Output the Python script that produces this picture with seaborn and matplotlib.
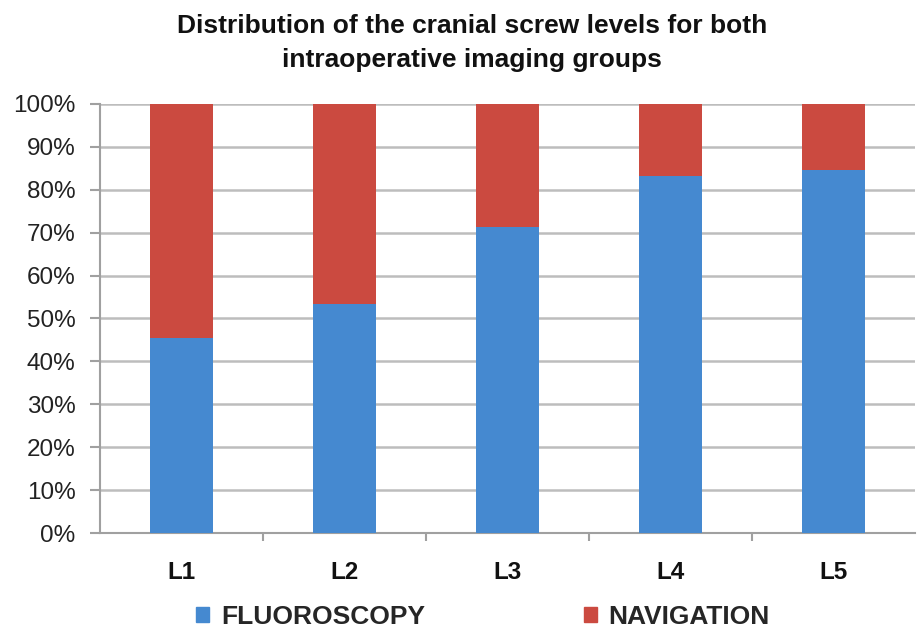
import pandas as pd
import numpy as np
import matplotlib
matplotlib.use("Agg")
import matplotlib.pyplot as plt
import seaborn as sns
from matplotlib.patches import Patch

# values (percent of screws per level)
levels = ["L1", "L2", "L3", "L4", "L5"]
fluoroscopy = [45.4, 53.4, 71.4, 83.2, 84.5]
navigation = [54.6, 46.6, 28.6, 16.8, 15.5]

blue = "#4589d0"
red = "#cb4a40"

df = pd.DataFrame({"level": levels, "fluoroscopy": fluoroscopy, "navigation": navigation})
df["total"] = df["fluoroscopy"] + df["navigation"]

sns.set_theme(style="white")
plt.rcParams["font.family"] = ["Liberation Sans", "DejaVu Sans"]

fig = plt.figure(figsize=(9.2, 6.34), dpi=100)
ax = fig.add_axes([0.1087, 0.1593, 0.886, 0.6767])

# stacked: draw total in red, then fluoroscopy on top in blue
sns.barplot(data=df, x="level", y="total", color=red, width=0.39, saturation=1,
            linewidth=0, ax=ax, zorder=2)
sns.barplot(data=df, x="level", y="fluoroscopy", color=blue, width=0.39, saturation=1,
            linewidth=0, ax=ax, zorder=3)

ax.set_ylim(0, 100)
ax.set_xlim(-0.5, len(levels) - 0.5)
ax.set_yticks(np.arange(0, 101, 10))
ax.set_yticklabels([f"{v}%" for v in range(0, 101, 10)], fontsize=17.5, color="#222222")
ax.set_xticklabels(levels, fontsize=17.5, fontweight="bold", color="#111111")
ax.set_xlabel("")
ax.set_ylabel("")
ax.yaxis.grid(True, color="#bdbdbd", linewidth=1.8, zorder=0)
ax.set_axisbelow(True)

for s in ["top", "right"]:
    ax.spines[s].set_visible(False)
for s in ["left", "bottom"]:
    ax.spines[s].set_color("#a0a0a0")
    ax.spines[s].set_linewidth(1.5)

ax.tick_params(axis="y", length=7, width=1.5, color="#a0a0a0", pad=10.5, left=True)
ax.tick_params(axis="x", length=0, pad=20)
ax.set_xticks(np.arange(0.5, len(levels) - 0.5, 1), minor=True)
ax.tick_params(axis="x", which="minor", length=6, width=1.5, color="#a0a0a0", bottom=True)

fig.suptitle("Distribution of the cranial screw levels for both\nintraoperative imaging groups",
             x=0.513, y=0.978, fontsize=19, fontweight="bold", color="#111111", linespacing=1.55)

handles = [Patch(color=blue, label="FLUOROSCOPY"), Patch(color=red, label="NAVIGATION")]
fig.legend(handles=handles, loc="lower center", bbox_to_anchor=(0.525, -0.03), ncol=2,
           frameon=False, handlelength=0.5, handleheight=0.5, handletextpad=0.45,
           columnspacing=6.0, prop={"weight": "bold", "size": 19})

fig.savefig("out.png", dpi=100)
